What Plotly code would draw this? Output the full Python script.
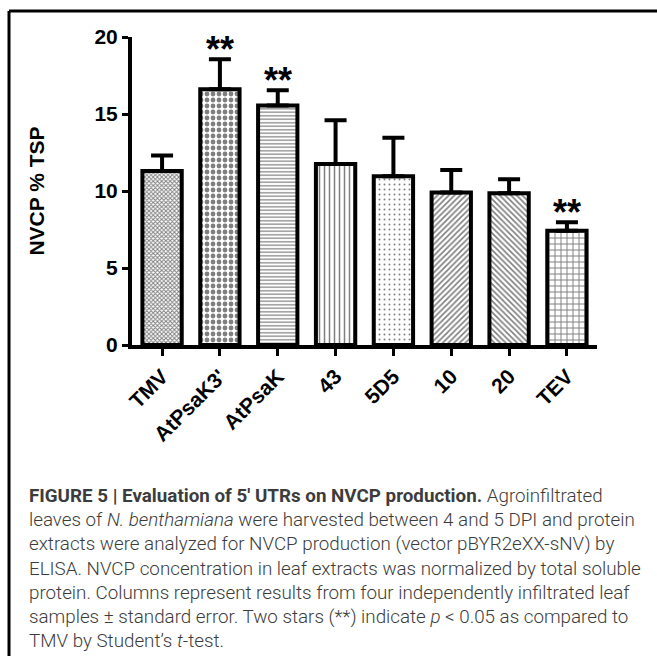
import plotly.graph_objects as go

categories = ["TMV", "AtPsaK3'", "AtPsaK", "43", "5D5", "10", "20", "TEV"]
values = [11.3, 16.6, 15.55, 11.75, 10.95, 9.9, 9.85, 7.42]
errors = [1.0, 1.95, 1.0, 2.85, 2.5, 1.47, 0.92, 0.55]
significant = [False, True, True, False, False, False, False, True]
y_ticks = [0, 5, 10, 15, 20]

pattern_shapes = ["x", ".", "-", "|", ".", "/", "\\", "+"]
pattern_sizes = [3, 6, 3.5, 5, 5, 4, 4, 6]
pattern_solid = [0.55, 0.5, 0.35, 0.3, 0.12, 0.4, 0.4, 0.3]

caption_lines = [
    "<b>FIGURE 5 | Evaluation of 5′ UTRs on NVCP production.</b> Agroinfiltrated",
    "leaves of <i>N. benthamiana</i> were harvested between 4 and 5 DPI and protein",
    "extracts were analyzed for NVCP production (vector pBYR2eXX-sNV) by",
    "ELISA. NVCP concentration in leaf extracts was normalized by total soluble",
    "protein. Columns represent results from four independently infiltrated leaf",
    "samples ± standard error. Two stars (**) indicate <i>p</i> &lt; 0.05 as compared to",
    "TMV by Student’s <i>t</i>-test.",
]

W, H = 657, 656
L, R, T, B = 132, 60, 37, 311
pw, ph = W - L - R, H - T - B

def px_x(x):
    return (x - L) / pw

def px_y(y):
    return (H - B - y) / ph

FONT = "Arial, Liberation Sans, sans-serif"

fig = go.Figure()
fig.add_trace(go.Bar(
    x=list(range(len(categories))),
    y=values,
    width=0.68,
    marker=dict(
        color="white",
        line=dict(color="black", width=4),
        pattern=dict(shape=pattern_shapes, size=pattern_sizes, solidity=pattern_solid,
                     fgcolor="black", bgcolor="white"),
    ),
    error_y=dict(type="data", symmetric=False, array=errors,
                 arrayminus=[0] * len(errors), color="black", thickness=4, width=11),
    showlegend=False,
    hoverinfo="skip",
))

annotations = []
for i, (v, e, s) in enumerate(zip(values, errors, significant)):
    if s:
        annotations.append(dict(x=i, y=v + e, xref="x", yref="y", text="<b>**</b>",
                                showarrow=False, yanchor="bottom", yshift=-13,
                                font=dict(family=FONT, size=36, color="black")))

cap_y0 = 496
cap_dy = 24.2
for k, line in enumerate(caption_lines):
    annotations.append(dict(x=px_x(27), y=px_y(cap_y0 + k * cap_dy), xref="paper", yref="paper",
                            text=line, showarrow=False, xanchor="left", yanchor="middle",
                            align="left",
                            font=dict(family="Roboto, Liberation Sans, sans-serif", size=18.8,
                                      color="#3c3c3c", weight=300)))

shapes = [
    dict(type="line", xref="paper", yref="paper", x0=px_x(9), x1=px_x(670),
         y0=px_y(11), y1=px_y(11), line=dict(color="black", width=3)),
    dict(type="line", xref="paper", yref="paper", x0=px_x(9), x1=px_x(9),
         y0=px_y(11), y1=px_y(670), line=dict(color="black", width=3)),
]

fig.update_layout(
    width=W, height=H,
    margin=dict(l=L, r=R, t=T, b=B, autoexpand=False),
    paper_bgcolor="white", plot_bgcolor="white",
    annotations=annotations, shapes=shapes,
    xaxis=dict(
        range=[-0.52, 7.52], tickmode="array", tickvals=list(range(len(categories))),
        ticktext=categories, tickangle=-45, showgrid=False, zeroline=False,
        showline=True, linecolor="black", linewidth=4,
        ticks="outside", ticklen=7, tickwidth=3, tickcolor="black",
        tickfont=dict(family=FONT, size=21, color="black", weight="bold"),
    ),
    yaxis=dict(
        range=[0, 20], tickmode="array", tickvals=y_ticks, showgrid=False, zeroline=False,
        showline=True, linecolor="black", linewidth=4,
        ticks="outside", ticklen=6, tickwidth=3, tickcolor="black",
        tickfont=dict(family=FONT, size=21, color="black", weight="bold"),
        title=dict(text="<b>NVCP % TSP</b>", standoff=45,
                   font=dict(family=FONT, size=21, color="black")),
    ),
)

fig.write_html("out.html", config={"displayModeBar": False},
               post_script="document.body.style.margin='0';document.body.style.padding='0';")
